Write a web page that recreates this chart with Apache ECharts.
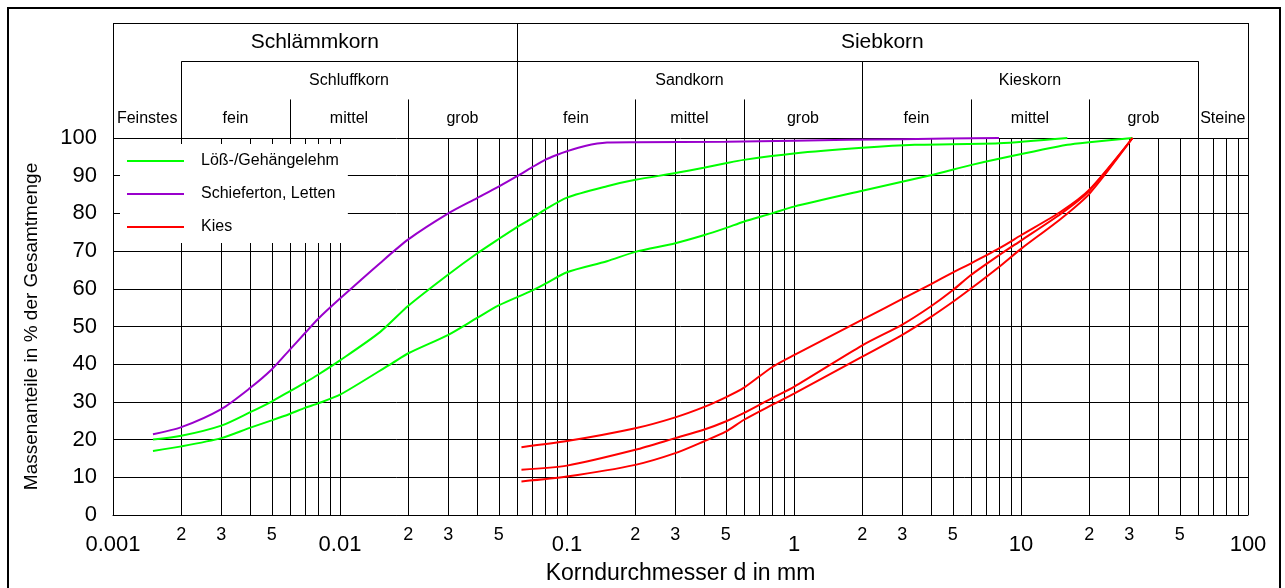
<!DOCTYPE html>
<html>
<head>
<meta charset="utf-8">
<title>Körnungslinien</title>
<script src="https://cdn.jsdelivr.net/npm/echarts@6/dist/echarts.min.js"></script>
<style>
  html, body { margin: 0; padding: 0; background: #fff; }
  #chart { width: 1285px; height: 588px; }
</style>
</head>
<body>
<div id="chart"></div>
<script>
const FONT = '"Liberation Sans", Arial, Helvetica, sans-serif';

// ---- grain size classes (mm), one array per header row: [label, from, to]
const headerTop = [
  ['Schlämmkorn', 0.001, 0.06],
  ['Siebkorn', 0.06, 100]
];
const headerMiddle = [
  ['Schluffkorn', 0.002, 0.06],
  ['Sandkorn', 0.06, 2],
  ['Kieskorn', 2, 60]
];
const headerBottom = [
  ['Feinstes', 0.001, 0.002],
  ['fein', 0.002, 0.006],
  ['mittel', 0.006, 0.02],
  ['grob', 0.02, 0.06],
  ['fein', 0.06, 0.2],
  ['mittel', 0.2, 0.6],
  ['grob', 0.6, 2],
  ['fein', 2, 6],
  ['mittel', 6, 20],
  ['grob', 20, 60],
  ['Steine', 60, 100]
];
const headerFontSizes = [21, 16, 16];

// ---- axis ticks
const xDecades = [0.001, 0.01, 0.1, 1, 10];
const xGridMultipliers = [1, 2, 3, 4, 5, 6, 7, 8, 9];
const xMajorTicks = [0.001, 0.01, 0.1, 1, 10, 100];
const xMajorLabels = ['0.001', '0.01', '0.1', '1', '10', '100'];
const xMinorLabelled = [2, 3, 5];

// ---- grading curves: [grain diameter d in mm, passing in %]
const loessUpper = [
  [0.0015, 20.0], [0.002, 21.0], [0.003, 23.7], [0.004, 27.2], [0.005, 30.1],
  [0.006, 32.8], [0.007, 35.1], [0.008, 37.2], [0.01, 41.0], [0.015, 48.5],
  [0.02, 55.5], [0.03, 63.8], [0.04, 69.3], [0.05, 73.2], [0.06, 76.3],
  [0.07, 78.7], [0.08, 81.0], [0.1, 84.2], [0.15, 87.2], [0.2, 88.9],
  [0.3, 90.7], [0.4, 92.1], [0.5, 93.3], [0.6, 94.2], [1, 95.9],
  [2, 97.4], [3.4, 98.2], [8, 98.6], [16, 100]
];
const loessLower = [
  [0.0015, 17.0], [0.002, 18.2], [0.003, 20.4], [0.004, 23.1], [0.005, 25.1],
  [0.006, 26.8], [0.007, 28.4], [0.008, 29.6], [0.01, 31.9], [0.017, 40.3],
  [0.02, 42.9], [0.03, 47.8], [0.04, 52.2], [0.05, 55.6], [0.07, 59.5],
  [0.08, 61.3], [0.1, 64.4], [0.15, 67.3], [0.2, 69.8], [0.3, 72.1],
  [0.4, 74.2], [0.5, 76.1], [0.6, 77.8], [0.8, 80.0], [1, 81.8],
  [2, 86.0], [4, 90.1], [6, 92.8], [8, 94.5], [16, 98.2], [20, 98.9], [31, 100]
];
const schieferton = [
  [0.0015, 21.4], [0.002, 23.3], [0.003, 28.1], [0.004, 33.6], [0.005, 38.6],
  [0.006, 43.8], [0.007, 48.2], [0.008, 52.0], [0.01, 57.4], [0.015, 66.8],
  [0.02, 73.1], [0.03, 80.0], [0.04, 84.0], [0.05, 87.1], [0.06, 89.8],
  [0.07, 92.2], [0.08, 94.2], [0.09, 95.5], [0.1, 96.5], [0.12, 97.9],
  [0.15, 98.8], [0.2, 98.9], [0.5, 99.0], [1, 99.3], [3, 99.7], [8, 100]
];
const kiesUpper = [
  [0.063, 18.0], [0.1, 19.6], [0.2, 23.0], [0.3, 25.9], [0.4, 28.6],
  [0.5, 31.2], [0.6, 33.7], [0.8, 39.2], [1, 42.4], [2, 51.8],
  [3, 57.3], [4, 61.2], [5, 64.3], [6, 66.7], [8, 70.7], [10, 74.2],
  [15, 80.5], [20, 86.3], [31, 100]
];
const kiesMiddle = [
  [0.063, 12.0], [0.1, 13.1], [0.2, 17.3], [0.3, 20.4], [0.4, 22.6],
  [0.5, 24.8], [0.6, 27.0], [0.8, 31.0], [1, 34.0], [2, 45.0],
  [3, 50.5], [4, 55.3], [5, 59.6], [6, 63.6], [8, 68.9], [10, 72.8],
  [15, 79.9], [20, 86.0], [31, 100]
];
const kiesLower = [
  [0.063, 8.9], [0.1, 10.2], [0.2, 13.3], [0.3, 16.4], [0.4, 19.5],
  [0.5, 22.1], [0.6, 25.2], [0.8, 29.2], [1, 32.2], [2, 42.0],
  [3, 47.8], [4, 52.5], [5, 56.5], [6, 60.0], [8, 65.8], [10, 70.6],
  [15, 78.6], [20, 85.2], [31, 100]
];

const NAME_LOESS = 'Löß-/Gehängelehm';
const NAME_SCHIEFER = 'Schieferton, Letten';
const NAME_KIES = 'Kies';
const COLOR_LOESS = '#00ff00';
const COLOR_SCHIEFER = '#9900cc';
const COLOR_KIES = '#ff0000';

// ---- derived helper tables
const xGridValues = [];
xDecades.forEach(d => xGridMultipliers.forEach(m => xGridValues.push(+(d * m).toPrecision(3))));
xGridValues.push(100);

const xLabelItems = [];
xMajorTicks.forEach((v, i) => xLabelItems.push({ v: v, text: xMajorLabels[i], major: true }));
xDecades.forEach(d => xMinorLabelled.forEach(m => xLabelItems.push({ v: +(d * m).toPrecision(3), text: String(m), major: false })));

const headerCells = [];
[headerTop, headerMiddle, headerBottom].forEach((row, r) =>
  row.forEach(c => headerCells.push({ text: c[0], from: c[1], to: c[2], row: r })));

const crisp = v => Math.round(v) + 0.5;

function curve(name, data, color) {
  return {
    type: 'line', name: name, data: data,
    xAxisIndex: 0, yAxisIndex: 0,
    smooth: 0.25,
    symbol: 'none', showSymbol: false,
    lineStyle: { color: color, width: 2 },
    itemStyle: { color: color },
    silent: true, z: 3
  };
}

const chart = echarts.init(document.getElementById('chart'), null, { renderer: 'canvas' });

chart.setOption({
  animation: false,
  backgroundColor: '#fff',
  textStyle: { fontFamily: FONT },
  grid: [
    { left: 113, right: 37, top: 138, bottom: 73, outerBoundsMode: 'none', containLabel: false },
    { left: 113, right: 37, top: 23, height: 115, outerBoundsMode: 'none', containLabel: false }
  ],
  xAxis: [
    {
      gridIndex: 0, type: 'log', logBase: 10, min: 0.001, max: 100,
      axisLine: { show: true, lineStyle: { color: '#000', width: 1 } },
      axisTick: { show: false }, axisLabel: { show: false }, splitLine: { show: false },
      name: 'Korndurchmesser d in mm', nameLocation: 'middle', nameGap: 47,
      nameTextStyle: { fontSize: 23, color: '#000', fontFamily: FONT }
    },
    {
      gridIndex: 1, type: 'log', logBase: 10, min: 0.001, max: 100, show: false
    }
  ],
  yAxis: [
    {
      gridIndex: 0, type: 'value', min: 0, max: 100, interval: 10,
      axisLine: { show: true, lineStyle: { color: '#000', width: 1 } },
      axisTick: { show: false },
      axisLabel: { fontSize: 22, color: '#000', margin: 16, fontFamily: FONT },
      splitLine: { show: true, lineStyle: { color: '#000', width: 1 } },
      name: 'Massenanteile in % der Gesamtmenge', nameLocation: 'middle', nameRotate: 90, nameGap: 72,
      nameTextStyle: { fontSize: 19, color: '#000', fontFamily: FONT }
    },
    {
      gridIndex: 1, type: 'value', min: 0, max: 3, inverse: true, show: false
    }
  ],
  legend: {
    data: [NAME_LOESS, NAME_SCHIEFER, NAME_KIES],
    orient: 'vertical', left: 120, top: 144,
    backgroundColor: '#fff', borderWidth: 0,
    padding: [9, 9, 8, 7],
    icon: 'rect',
    itemWidth: 57, itemHeight: 2, itemGap: 17,
    selectedMode: false,
    textStyle: { fontFamily: FONT, fontSize: 16, lineHeight: 16, color: '#000', padding: [0, 0, 0, 12] }
  },
  graphic: [{
    type: 'rect', z: -10, silent: true,
    shape: { x: 8, y: 8, width: 1272, height: 600 },
    style: { fill: null, stroke: '#000', lineWidth: 2 }
  }],
  series: [
    // vertical log grid lines of the diagram
    {
      type: 'custom', xAxisIndex: 0, yAxisIndex: 0, silent: true, z: 1,
      data: xGridValues.map(v => [v, 0]),
      encode: { x: 0, y: 1 },
      renderItem: function (params, api) {
        const v = api.value(0);
        const b = api.coord([v, 0]);
        const t = api.coord([v, 100]);
        const x = crisp(b[0]);
        return {
          type: 'line',
          shape: { x1: x, y1: t[1], x2: x, y2: b[1] },
          style: { stroke: '#000', lineWidth: 1 }
        };
      }
    },
    // diameter labels below the axis
    {
      type: 'custom', xAxisIndex: 0, yAxisIndex: 0, silent: true, z: 1, clip: false,
      data: xLabelItems.map(o => [o.v, 0]),
      encode: { x: 0, y: 1 },
      renderItem: function (params, api) {
        const item = xLabelItems[params.dataIndex];
        const p = api.coord([item.v, 0]);
        return {
          type: 'text',
          style: {
            text: item.text, x: p[0], y: p[1] + (item.major ? 30 : 20),
            align: 'center', verticalAlign: 'middle',
            fontSize: item.major ? 22 : 18, fontFamily: FONT, fill: '#000'
          }
        };
      }
    },
    // grain class table above the diagram
    {
      type: 'custom', xAxisIndex: 1, yAxisIndex: 1, silent: true, z: 1, clip: false,
      data: headerCells.map(c => [c.from, c.to, c.row]),
      encode: { x: [0, 1], y: 2 },
      renderItem: function (params, api) {
        const c = headerCells[params.dataIndex];
        const lt = api.coord([c.from, c.row]);
        const rb = api.coord([c.to, 3]);
        const rowBottom = api.coord([c.from, c.row + 1])[1];
        const xl = crisp(lt[0]);
        const xr = crisp(rb[0]);
        const lineStyle = { stroke: '#000', lineWidth: 1 };
        const kids = [
          { type: 'line', shape: { x1: xl, y1: lt[1], x2: xl, y2: rb[1] }, style: lineStyle },
          { type: 'line', shape: { x1: xr, y1: lt[1], x2: xr, y2: rb[1] }, style: lineStyle }
        ];
        if (c.row < 2) {
          const y = crisp(lt[1]);
          kids.push({ type: 'line', shape: { x1: xl, y1: y, x2: xr, y2: y }, style: lineStyle });
        }
        kids.push({
          type: 'text',
          style: {
            text: c.text, x: (lt[0] + rb[0]) / 2, y: (lt[1] + rowBottom) / 2,
            align: 'center', verticalAlign: 'middle',
            fontSize: headerFontSizes[c.row], fontFamily: FONT, fill: '#000'
          }
        });
        return { type: 'group', children: kids };
      }
    },
    curve(NAME_LOESS, loessUpper, COLOR_LOESS),
    curve(NAME_LOESS, loessLower, COLOR_LOESS),
    curve(NAME_SCHIEFER, schieferton, COLOR_SCHIEFER),
    curve(NAME_KIES, kiesUpper, COLOR_KIES),
    curve(NAME_KIES, kiesMiddle, COLOR_KIES),
    curve(NAME_KIES, kiesLower, COLOR_KIES)
  ]
});
</script>
</body>
</html>
